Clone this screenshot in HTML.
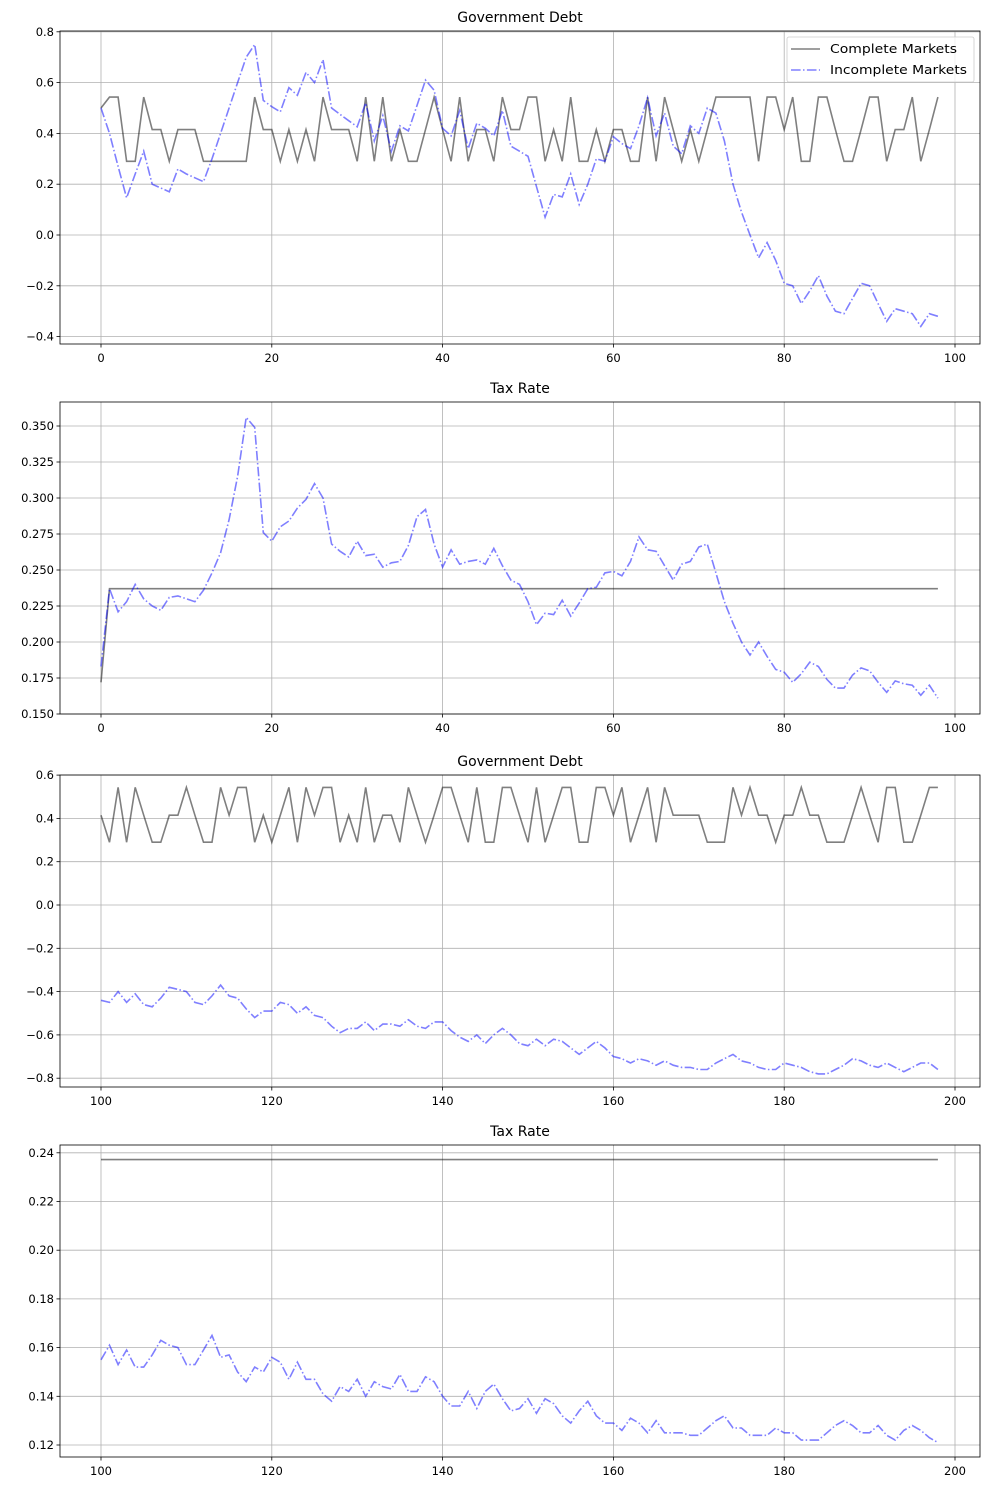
<!DOCTYPE html>
<html><head><meta charset="utf-8"><style>
body{margin:0;background:#fff}
svg{display:block;font-family:"DejaVu Sans","Liberation Sans",sans-serif}
</style></head><body>
<svg id="s" width="990" height="1490" xmlns="http://www.w3.org/2000/svg"></svg>
<script>
const S=document.getElementById('s');let h='';
const X0=60,X1=980;
const DASH='stroke-dasharray="9.6,2.4,1.5,2.4"';
function xp(t,off){return 101+(t-off)*8.54;}
function lv(str,H,M,L){return str.split('').map(c=>c=='H'?H:c=='M'?M:L);}
function panel(o){
 const {top,bot,yfn,yt,ytl,off,xt,title}=o;
 xt.forEach(t=>{const x=xp(t,0);h+=`<line x1="${x}" y1="${top}" x2="${x}" y2="${bot}" stroke="#b0b0b0" stroke-width="0.8"/>`;
  h+=`<line x1="${x}" y1="${bot}" x2="${x}" y2="${bot+3.5}" stroke="#000" stroke-width="0.8"/>`;
  h+=`<text x="${x}" y="${bot+18}" font-size="11.5" text-anchor="middle">${t+off}</text>`;});
 yt.forEach((v,i)=>{const y=yfn(v);h+=`<line x1="${X0}" y1="${y}" x2="${X1}" y2="${y}" stroke="#b0b0b0" stroke-width="0.8"/>`;
  h+=`<line x1="${X0-3.5}" y1="${y}" x2="${X0}" y2="${y}" stroke="#000" stroke-width="0.8"/>`;
  h+=`<text x="${X0-6}" y="${y+4}" font-size="11.5" text-anchor="end">${ytl[i]}</text>`;});
 h+=`<text x="520" y="${top-9}" font-size="14" text-anchor="middle">${title}</text>`;
 const pl=(arr,st)=>{h+=`<polyline fill="none" points="${arr.map((v,i)=>xp(i,0).toFixed(1)+','+yfn(v).toFixed(1)).join(' ')}" ${st}/>`;};
 pl(o.cm,'stroke="#000" stroke-opacity="0.5" stroke-width="1.6"');
 pl(o.im,'stroke="#0000ff" stroke-opacity="0.5" stroke-width="1.6" '+DASH);
 h+=`<rect x="${X0}" y="${top}" width="${X1-X0}" height="${bot-top}" fill="none" stroke="#000" stroke-width="0.8"/>`;
}
const xt=[0,20,40,60,80,100];
let H=0.543,M=0.415,L=0.29;
let cm1=[0.5].concat(lv("HHLLHMMLMMMLLLLLLHMMLMLMLHMMMLHLHLMLLMHMLHLMMLHMMHHLMLHLLMLMMLLHLHMLMLMHHHHHLHHMHLLHHMLLMHHLMMHLMH",H,M,L));
let im1=[0.5,0.4,0.27,0.146,0.24,0.33,0.2,0.185,0.17,0.26,0.24,0.225,0.21,0.3,0.4,0.5,0.6,0.7,0.75,0.53,0.505,0.485,0.58,0.55,0.64,0.6,0.69,0.5,0.475,0.45,0.426,0.52,0.37,0.47,0.33,0.43,0.41,0.51,0.61,0.57,0.42,0.39,0.49,0.34,0.44,0.42,0.39,0.49,0.35,0.33,0.31,0.19,0.07,0.16,0.15,0.24,0.12,0.2,0.3,0.29,0.387,0.36,0.34,0.43,0.54,0.39,0.48,0.35,0.32,0.43,0.4,0.5,0.48,0.37,0.2,0.09,0.0,-0.09,-0.03,-0.1,-0.19,-0.2,-0.27,-0.22,-0.16,-0.24,-0.3,-0.31,-0.25,-0.19,-0.2,-0.27,-0.34,-0.29,-0.3,-0.31,-0.36,-0.31,-0.32];
panel({top:31,bot:344,yfn:v=>235-v*254,yt:[-0.4,-0.2,0,0.2,0.4,0.6,0.8],ytl:['−0.4','−0.2','0.0','0.2','0.4','0.6','0.8'],off:0,xt,title:'Government Debt',cm:cm1,im:im1});
let cm2=[0.172];for(let i=1;i<99;i++)cm2.push(0.237);
let im2=[0.183,0.237,0.221,0.228,0.24,0.23,0.225,0.222,0.231,0.232,0.23,0.228,0.236,0.248,0.262,0.285,0.315,0.356,0.349,0.276,0.270,0.28,0.284,0.293,0.299,0.31,0.3,0.268,0.263,0.259,0.27,0.26,0.261,0.252,0.255,0.256,0.267,0.287,0.292,0.268,0.252,0.264,0.254,0.256,0.257,0.254,0.265,0.253,0.243,0.24,0.228,0.212,0.22,0.219,0.229,0.218,0.227,0.237,0.238,0.248,0.249,0.246,0.256,0.273,0.264,0.263,0.253,0.243,0.254,0.256,0.266,0.268,0.248,0.228,0.213,0.2,0.191,0.2,0.19,0.181,0.179,0.172,0.178,0.186,0.183,0.174,0.168,0.168,0.177,0.182,0.18,0.172,0.165,0.173,0.171,0.17,0.163,0.17,0.161];
panel({top:402,bot:714,yfn:v=>714-(v-0.15)*1440,yt:[0.15,0.175,0.2,0.225,0.25,0.275,0.3,0.325,0.35],ytl:['0.150','0.175','0.200','0.225','0.250','0.275','0.300','0.325','0.350'],off:0,xt,title:'Tax Rate',cm:cm2,im:im2});
let cm3=lv("MLHLHMLLMMHMLLHMHHLMLMHLHMHHLMLHLMMLHMLMHHMLHLLHHMLHLMHHLLHHMHLMHLHMMMMLLLHMHMMLMMHMMLLLMHMLHHLLMHH",H,M,L);
let im3=[-0.44,-0.45,-0.40,-0.45,-0.41,-0.46,-0.47,-0.43,-0.38,-0.39,-0.40,-0.45,-0.46,-0.42,-0.37,-0.42,-0.43,-0.48,-0.52,-0.49,-0.49,-0.45,-0.46,-0.50,-0.47,-0.51,-0.52,-0.56,-0.59,-0.57,-0.57,-0.54,-0.58,-0.55,-0.55,-0.56,-0.53,-0.56,-0.57,-0.54,-0.54,-0.58,-0.61,-0.63,-0.60,-0.64,-0.60,-0.57,-0.60,-0.64,-0.65,-0.62,-0.65,-0.62,-0.63,-0.66,-0.69,-0.66,-0.63,-0.66,-0.70,-0.71,-0.73,-0.71,-0.72,-0.74,-0.72,-0.74,-0.75,-0.75,-0.76,-0.76,-0.73,-0.71,-0.69,-0.72,-0.73,-0.75,-0.76,-0.76,-0.73,-0.74,-0.75,-0.77,-0.78,-0.78,-0.76,-0.74,-0.71,-0.72,-0.74,-0.75,-0.73,-0.75,-0.77,-0.75,-0.73,-0.73,-0.76];
panel({top:775,bot:1087,yfn:v=>905-v*216.5,yt:[-0.8,-0.6,-0.4,-0.2,0,0.2,0.4,0.6],ytl:['−0.8','−0.6','−0.4','−0.2','0.0','0.2','0.4','0.6'],off:100,xt,title:'Government Debt',cm:cm3,im:im3});
let cm4=[];for(let i=0;i<99;i++)cm4.push(0.2372);
let im4=[0.155,0.161,0.153,0.159,0.152,0.152,0.157,0.163,0.161,0.160,0.153,0.153,0.159,0.165,0.156,0.157,0.150,0.146,0.152,0.150,0.156,0.154,0.147,0.154,0.147,0.147,0.141,0.138,0.144,0.142,0.147,0.140,0.146,0.144,0.143,0.149,0.142,0.142,0.148,0.146,0.140,0.136,0.136,0.142,0.135,0.142,0.145,0.139,0.134,0.135,0.139,0.133,0.139,0.137,0.132,0.129,0.134,0.138,0.132,0.129,0.129,0.126,0.131,0.129,0.125,0.130,0.125,0.125,0.125,0.124,0.124,0.127,0.130,0.132,0.127,0.127,0.124,0.124,0.124,0.127,0.125,0.125,0.122,0.122,0.122,0.125,0.128,0.130,0.128,0.125,0.125,0.128,0.124,0.122,0.126,0.128,0.126,0.123,0.121];
panel({top:1145,bot:1457,yfn:v=>1445-(v-0.12)*2435,yt:[0.12,0.14,0.16,0.18,0.2,0.22,0.24],ytl:['0.12','0.14','0.16','0.18','0.20','0.22','0.24'],off:100,xt,title:'Tax Rate',cm:cm4,im:im4});
h+=`<rect x="787" y="37" width="187" height="45" rx="2" fill="#fff" fill-opacity="0.8" stroke="#ccc" stroke-width="0.8"/>`;
h+=`<line x1="791" y1="49" x2="820" y2="49" stroke="#000" stroke-opacity="0.5" stroke-width="1.6"/>`;
h+=`<line x1="791" y1="70" x2="820" y2="70" stroke="#0000ff" stroke-opacity="0.5" stroke-width="1.6" ${DASH}/>`;
h+=`<text x="830" y="53" font-size="12" textLength="127" lengthAdjust="spacingAndGlyphs">Complete Markets</text>`;
h+=`<text x="830" y="74" font-size="12" textLength="137" lengthAdjust="spacingAndGlyphs">Incomplete Markets</text>`;
S.innerHTML=h;
</script>
</body></html>
